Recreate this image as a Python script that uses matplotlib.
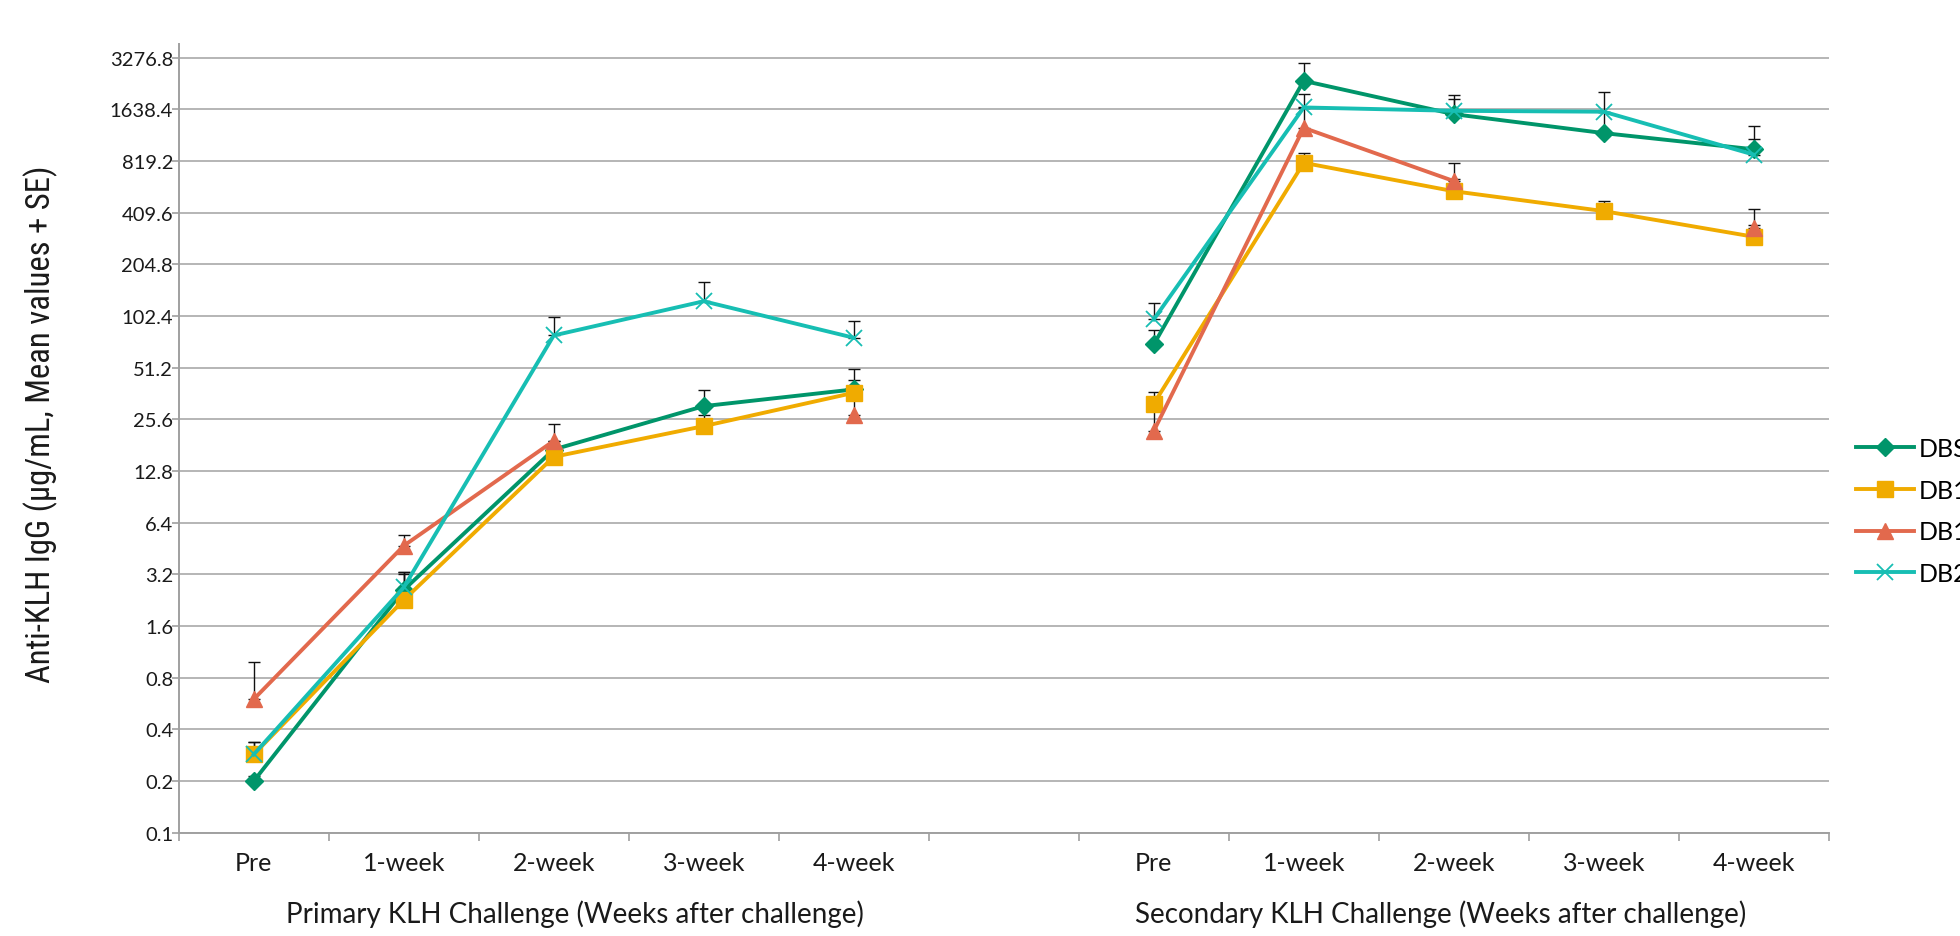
import numpy as np
import matplotlib
matplotlib.use("Agg")
import matplotlib.pyplot as plt
from matplotlib import font_manager
from matplotlib.ticker import FixedLocator, NullFormatter

nan = np.nan

categories = ["Pre", "1-week", "2-week", "3-week", "4-week", "",
              "Pre", "1-week", "2-week", "3-week", "4-week"]
y_ticks = [0.1, 0.2, 0.4, 0.8, 1.6, 3.2, 6.4, 12.8, 25.6, 51.2,
           102.4, 204.8, 409.6, 819.2, 1638.4, 3276.8]

series_names = ["DBS", "DB1", "DB1", "DB2"]

dbs_mean = [0.2, 2.6, 17.1, 30.6, 38.3, nan, 70, 2405, 1538, 1193, 960]
dbs_se = [0.013, 0.7, 2.0, 7.4, 12.4, nan, 15, 661, 344, 390, 146]

db1a_mean = [0.286, 2.27, 15.5, 23.4, 36.6, nan, 31.6, 801, 547, 419, 297]
db1a_se = [0.054, 0.97, 1.5, 3.6, 6.6, nan, 5.4, 109, 98, 60, 49]

db1b_mean = [0.6, 4.7, 19.2, nan, 27, nan, 21.9, 1280, 627, nan, 332]
db1b_se = [0.39, 0.7, 4.8, nan, 9, nan, 8, 400, 174, nan, 98]

db2_mean = [0.286, 2.69, 79, 125, 76.6, nan, 98, 1683, 1609, 1590, 894]
db2_se = [0.05, 0.6, 22, 37, 19, nan, 24, 330, 387, 484, 416]

colors = ["#00956A", "#F0AB00", "#E2694D", "#17BEB3"]
markers = ["D", "s", "^", "x"]
msizes = [9, 11, 11, 11]

group_labels = ["Primary KLH Challenge (Weeks after challenge)",
                "Secondary KLH Challenge (Weeks after challenge)"]


def pick_font(names):
    for n in names:
        try:
            font_manager.findfont(n, fallback_to_default=False)
            return n
        except Exception:
            continue
    return "DejaVu Sans"


main_font = pick_font(["Lato", "Open Sans", "DejaVu Sans"])
narrow_font = pick_font(["Liberation Sans Narrow", "Roboto Condensed", "Open Sans", "DejaVu Sans"])

plt.rcParams["font.family"] = [main_font, "DejaVu Sans"]

fig = plt.figure(figsize=(19.6, 9.37), dpi=100)
ax = fig.add_axes([178.75 / 1960, 103.25 / 937, 1650 / 1960, (833.75 - 44.6) / 937])

x = np.arange(len(categories))
means = [dbs_mean, db1a_mean, db1b_mean, db2_mean]
ses = [dbs_se, db1a_se, db1b_se, db2_se]

ax.set_yscale("log", base=2)
ax.set_ylim(0.1, 3276.8 * 2 ** (14.2 / 51.67))
ax.set_xlim(-0.5, len(categories) - 0.5)

for m, s, c, mk, ms, name in zip(means, ses, colors, markers, msizes, series_names):
    m = np.array(m, dtype=float)
    s = np.array(s, dtype=float)
    lower = np.zeros_like(s)
    ax.errorbar(x, m, yerr=[lower, s], fmt="none", ecolor="#111111",
                elinewidth=1.0, capsize=4.5, capthick=1.0, zorder=2.5)
    if mk == "x":
        ax.plot(x, m, color=c, lw=2.8, marker=mk, ms=ms, mew=1.3,
                label=name, zorder=3)
    else:
        ax.plot(x, m, color=c, lw=2.8, marker=mk, ms=ms, mec=c,
                label=name, zorder=3)

# grid
ax.yaxis.set_major_locator(FixedLocator(y_ticks))
ax.set_yticklabels([f"{v:g}" if v < 1 else f"{v:.1f}" for v in y_ticks])
ax.yaxis.set_minor_formatter(NullFormatter())
ax.yaxis.set_minor_locator(FixedLocator([]))
ax.grid(axis="y", which="major", color="#b0b0b0", lw=1.3, zorder=0)
ax.set_axisbelow(True)

ax.tick_params(axis="y", which="major", direction="out", length=5,
               width=1.2, color="#a0a0a0", labelsize=14.5, pad=-1,
               labelcolor="#1a1a1a")

# x ticks: labels at categories, marks at boundaries
ax.set_xticks(x)
ax.set_xticklabels(categories)
ax.set_xticks(np.arange(-0.5, len(categories)), minor=True)
ax.tick_params(axis="x", which="major", length=0, labelsize=18, pad=13,
               labelcolor="#1a1a1a")
ax.tick_params(axis="x", which="minor", direction="out", length=6,
               width=1.2, color="#a0a0a0")

for side in ["top", "right"]:
    ax.spines[side].set_visible(False)
ax.spines["left"].set_color("#a0a0a0")
ax.spines["left"].set_linewidth(1.4)
ax.spines["bottom"].set_color("#a0a0a0")
ax.spines["bottom"].set_linewidth(1.4)

ax.set_ylabel("Anti-KLH IgG (µg/mL, Mean values + SE)", fontsize=23.5,
              family=[narrow_font, "DejaVu Sans"], color="#1a1a1a")
ax.yaxis.set_label_coords(-(178.75 - 58) / 1650, 0.519)

trans = ax.get_xaxis_transform()
ax.text(2.14, -0.1017, group_labels[0], transform=trans, ha="center",
        va="center", fontsize=20, color="#1a1a1a")
ax.text(7.91, -0.1017, group_labels[1], transform=trans, ha="center",
        va="center", fontsize=20, color="#1a1a1a")

leg = fig.legend(loc="center left", bbox_to_anchor=(1846 / 1960, 1 - 512 / 937),
                 frameon=False, fontsize=18, handlelength=2.3,
                 handletextpad=0.2, labelspacing=0.75, borderaxespad=0)

fig.savefig("out.png", dpi=100)
